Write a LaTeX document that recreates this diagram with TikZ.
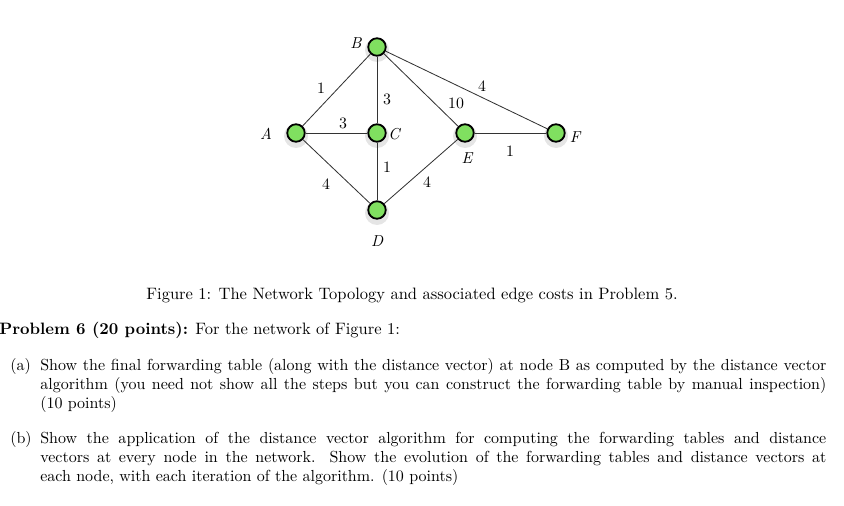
\documentclass[tikz,border=0pt]{standalone}
\usepackage{tikz}
\begin{document}
\begin{tikzpicture}[x=0.6pt,y=-0.6pt,
  vert/.style={circle,draw=black,line width=1.1pt,fill=nodegreen,minimum size=10.5pt,inner sep=0pt},
  edge/.style={draw=black!80,line width=0.5pt},
  lbl/.style={font=\fontsize{9.5}{11}\selectfont,inner sep=0pt},
  nlbl/.style={font=\fontsize{9.5}{11}\selectfont\itshape,inner sep=0pt},
  body/.style={anchor=north west,inner sep=0pt,text width=471.6pt,align=justify,font=\fontsize{9.6}{11.6}\selectfont},
  tag/.style={anchor=north west,inner sep=0pt,font=\fontsize{9.6}{11.6}\selectfont}]
\definecolor{nodegreen}{HTML}{80E060}
\useasboundingbox (0,0) rectangle (844,505);
% shadows
\foreach \p in {(296,136),(377,50),(377,136),(377,213),(465,136),(556,136)}
  \fill[black,opacity=0.10] \p circle (12);
% nodes
\node[vert] (A) at (296,133) {};
\node[vert] (B) at (377,47) {};
\node[vert] (C) at (377,133) {};
\node[vert] (D) at (377,210) {};
\node[vert] (E) at (465,133) {};
\node[vert] (F) at (556,133) {};
% edges
\draw[edge] (A) -- (B);
\draw[edge] (A) -- (C);
\draw[edge] (A) -- (D);
\draw[edge] (B) -- (C);
\draw[edge] (B) -- (E);
\draw[edge] (B) -- (F);
\draw[edge] (C) -- (D);
\draw[edge] (D) -- (E);
\draw[edge] (E) -- (F);
% node names
\node[nlbl] (lA) at (266,134) {A};
\node[nlbl] (lB) at (356,43) {B};
\node[nlbl] (lC) at (394,134) {C};
\node[nlbl] (lD) at (377,241) {D};
\node[nlbl] (lE) at (467,158) {E};
\node[nlbl] (lF) at (575,137) {F};
% edge costs
\node[lbl] (cAB) at (321,88) {1};
\node[lbl] (cBC) at (387,99) {3};
\node[lbl] (cAC) at (343,123) {3};
\node[lbl] (cBE) at (456,103) {10};
\node[lbl] (cBF) at (482,86) {4};
\node[lbl] (cEF) at (510,151) {1};
\node[lbl] (cCD) at (387,167) {1};
\node[lbl] (cAD) at (326,184) {4};
\node[lbl] (cDE) at (427,182) {4};
% text
\node[tag,anchor=base,font=\fontsize{9.9}{11.6}\selectfont] (cap) at (412,299) {Figure 1: The Network Topology and associated edge costs in Problem 5.};
\node[tag,anchor=base west,font=\fontsize{9.9}{11.6}\selectfont] (prob) at (-1,334) {\textbf{Problem 6 (20 points):} For the network of Figure 1:};
\node[tag,anchor=base west] (ta) at (10,370) {(a)};
\node[body,anchor=base west] (ba) at (40,370) {Show the final forwarding table (along with the distance vector) at node B as computed by the distance vector\linebreak algorithm (you need not show all the steps but you can construct the forwarding table by manual inspection)\linebreak (10 points)};
\node[tag,anchor=base west] (tb) at (10,443) {(b)};
\node[body,anchor=base west] (bb) at (40,443) {Show the application of the distance vector algorithm for computing the forwarding tables and distance\linebreak vectors at every node in the network. Show the evolution of the forwarding tables and distance vectors at\linebreak each node, with each iteration of the algorithm. (10 points)};
\end{tikzpicture}
\end{document}
